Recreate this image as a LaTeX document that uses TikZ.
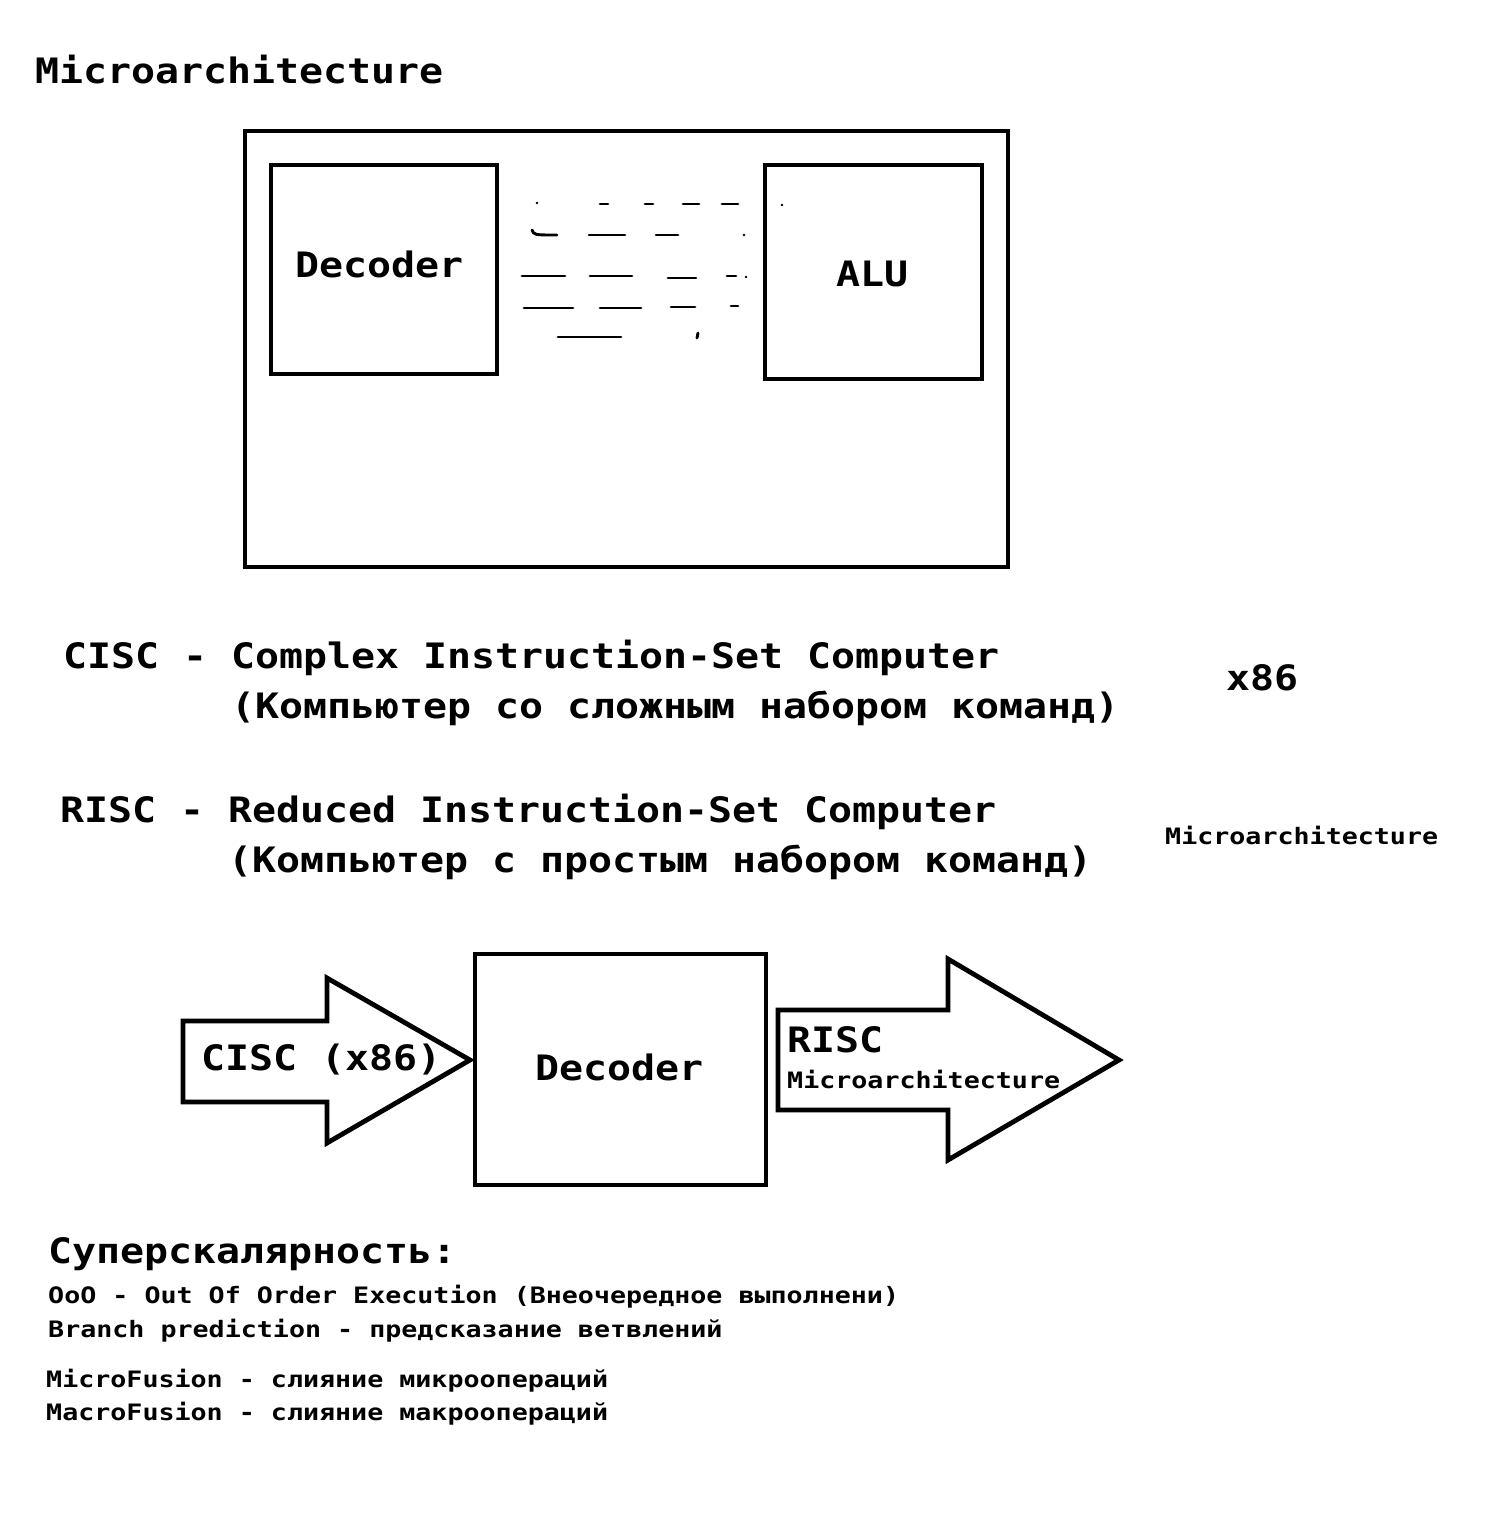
\documentclass[tikz,border=0pt]{standalone}
\usepackage{fontspec}
\newfontfamily\bigmono{DejaVu Sans Mono}[FakeStretch=1.14]
\newfontfamily\smallmono{DejaVu Sans Mono}[FakeStretch=1.18]
\tikzset{
  box/.style={line width=4.8pt, line join=miter},
  bigtxt/.style={font=\bigmono\bfseries\fontsize{35}{40}\selectfont, anchor=base west, inner sep=0pt},
  smalltxt/.style={font=\smallmono\bfseries\fontsize{22.6}{26}\selectfont, anchor=base west, inner sep=0pt},
  scribble/.style={line width=2.9pt, line cap=round}
}
\begin{document}
\begin{tikzpicture}[x=1pt, y=-1pt]
\useasboundingbox (0,0) rectangle (1504,1521);

\node[bigtxt] (title) at (35,83) {Microarchitecture};

% microarchitecture box
\draw[box] (245,131) rectangle (1008,567);
\draw[box] (271,165) rectangle (497,374);
\draw[box] (765,165) rectangle (982,379);
\node[bigtxt] (dec1) at (295,277) {Decoder};
\node[bigtxt] (alu) at (836,286) {ALU};

% scribbled lines between decoder and alu
\foreach \xa/\xb/\y in {600/608/204, 645/653/204, 683/699/204, 722/738/204,
                        589/625/235, 656/678/235,
                        522/565/276, 590/632/276, 668/696/278, 727/736/276,
                        524/573/308, 600/641/308, 671/695/307, 731/738/306,
                        558/621/337}
{
    \draw[scribble] (\xa,\y) -- (\xb,\y);
}
\draw[scribble] (532,230) .. controls (534,235) .. (557,235);
\draw[scribble] (698,333) -- (697,338);
\foreach \x/\y in {537/203, 744/235, 746/277, 782/205}
    \fill (\x,\y) circle (1.3);

% cisc / risc
\node[bigtxt] (cisc) at (63,668) {CISC - Complex Instruction-Set Computer};
\node[bigtxt] (ciscru) at (231,718) {(Компьютер со сложным набором команд)};
\node[bigtxt] (xsix) at (1226,690) {x86};
\node[bigtxt] (risc) at (60,822) {RISC - Reduced Instruction-Set Computer};
\node[bigtxt] (riscru) at (228,872) {(Компьютер с простым набором команд)};
\node[smalltxt] (march) at (1165,844) {Microarchitecture};

% decoder pipeline
\draw[box] (183,1021) -- (327,1021) -- (327,978) -- (470,1060) -- (327,1143)
    -- (327,1102) -- (183,1102) -- cycle;
\node[bigtxt] (cin) at (201,1070) {CISC (x86)};
\draw[box] (475,954) rectangle (766,1185);
\node[bigtxt] (dec2) at (535,1080) {Decoder};
\draw[box] (778,1010) -- (948,1010) -- (948,959) -- (1119,1060) -- (948,1160)
    -- (948,1110) -- (778,1110) -- cycle;
\node[bigtxt] (rout) at (787,1052) {RISC};
\node[smalltxt] (routm) at (787,1088) {Microarchitecture};

% superscalar
\node[bigtxt] (sup) at (48,1263) {Суперскалярность:};
\node[smalltxt] (ooo) at (48,1303) {OoO - Out Of Order Execution (Внеочередное выполнени)};
\node[smalltxt] (branch) at (48,1337) {Branch prediction - предсказание ветвлений};
\node[smalltxt] (mif) at (46,1387) {MicroFusion - слияние микроопераций};
\node[smalltxt] (maf) at (46,1420) {MacroFusion - слияние макроопераций};

\end{tikzpicture}
\end{document}
